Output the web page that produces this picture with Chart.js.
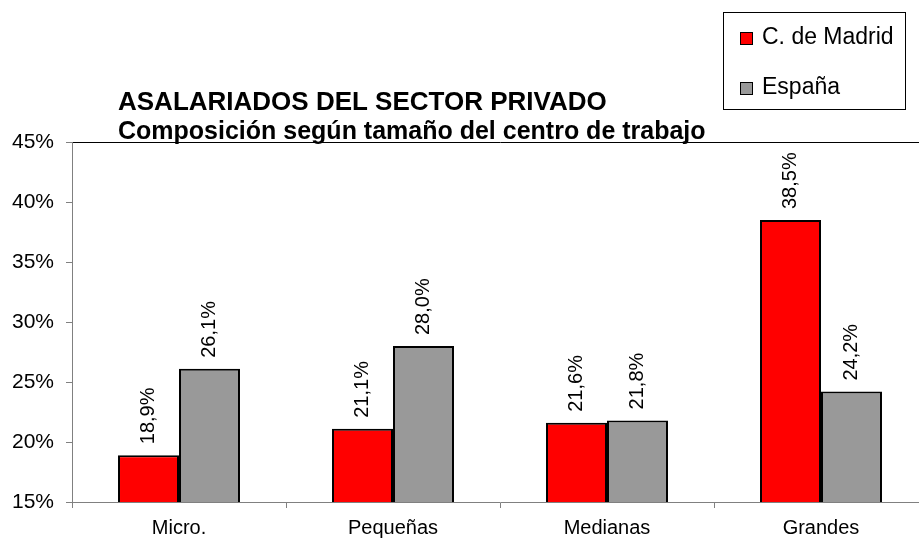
<!doctype html>
<html>
<head>
	<meta charset="utf-8">
	<title>Asalariados del sector privado</title>
	<script src="https://cdn.jsdelivr.net/npm/chart.js@4"></script>
	<style>
	html, body { margin: 0; padding: 0; background: #fff; overflow: hidden; }
	#wrap { position: relative; width: 930px; height: 543px; }
	</style>
</head>
<body>
	<div id="wrap">
		<canvas id="canvas" width="930" height="543"></canvas>
	</div>

	<script>
		var categories = ['Micro.', 'Pequeñas', 'Medianas', 'Grandes'];
		var madrid = [18.9, 21.1, 21.6, 38.5];
		var espana = [26.1, 28.0, 21.8, 24.2];
		var seriesNames = ['C. de Madrid', 'España'];
		var yTicks = [15, 20, 25, 30, 35, 40, 45];

		var titleText = 'ASALARIADOS DEL SECTOR PRIVADO';
		var subtitleText = 'Composición según tamaño del centro de trabajo';
		var fontName = '"Liberation Sans", Arial, sans-serif';

		Chart.defaults.font.family = fontName;
		Chart.defaults.color = '#000';

		// title, subtitle and the boxed legend
		var headerPlugin = {
			id: 'header',
			afterDraw: function(chart) {
				var c = chart.ctx;
				c.save();
				c.fillStyle = '#000';
				c.textBaseline = 'middle';
				c.textAlign = 'left';
				c.font = 'bold 26px ' + fontName;
				c.fillText(titleText, 118, 103);
				c.font = 'bold 25px ' + fontName;
				c.fillText(subtitleText, 118, 132);

				c.strokeStyle = '#000';
				c.lineWidth = 1;
				c.strokeRect(723.5, 12.5, 182, 97);
				c.font = '23px ' + fontName;
				chart.data.datasets.forEach(function(ds, i) {
					var y = 38 + i * 50;
					c.fillStyle = ds.backgroundColor;
					c.fillRect(740, y - 6, 13, 13);
					c.strokeRect(740.5, y - 5.5, 12, 12);
					c.fillStyle = '#000';
					c.fillText(ds.label, 762, y);
				});
				c.restore();
			}
		};

		// rotated value labels above bars
		var valueLabels = {
			id: 'valueLabels',
			afterDatasetsDraw: function(chart) {
				var c = chart.ctx;
				c.save();
				c.font = '20px ' + fontName;
				c.fillStyle = '#000';
				c.textAlign = 'left';
				c.textBaseline = 'middle';
				chart.data.datasets.forEach(function(ds, i) {
					chart.getDatasetMeta(i).data.forEach(function(bar, j) {
						var txt = ds.data[j].toFixed(1).replace('.', ',') + '%';
						c.save();
						c.translate(bar.x, bar.y - 11);
						c.rotate(-Math.PI / 2);
						c.fillText(txt, 0, 0);
						c.restore();
					});
				});
				c.restore();
			}
		};

		var ctx = document.getElementById('canvas').getContext('2d');
		window.myBar = new Chart(ctx, {
			type: 'bar',
			data: {
				labels: categories,
				datasets: [{
					label: seriesNames[0],
					data: madrid,
					backgroundColor: '#ff0000',
					borderColor: '#000',
					borderWidth: 2,
					borderSkipped: false
				}, {
					label: seriesNames[1],
					data: espana,
					backgroundColor: '#999999',
					borderColor: '#000',
					borderWidth: 2,
					borderSkipped: false
				}]
			},
			options: {
				responsive: false,
				animation: false,
				layout: { padding: { top: 142, right: 2, left: 0, bottom: 0 } },
				plugins: {
					legend: { display: false },
					title: { display: false },
					tooltip: { enabled: false }
				},
				datasets: {
					bar: { categoryPercentage: 0.57, barPercentage: 1 }
				},
				scales: {
					x: {
						grid: {
							offset: true,
							drawOnChartArea: false,
							drawTicks: true,
							tickLength: 6,
							color: '#808080'
						},
						border: { color: '#808080', width: 1 },
						ticks: { font: { size: 20 }, padding: 8, color: '#000' },
						afterFit: function(s) { s.height = 41; }
					},
					y: {
						min: 15,
						max: 45,
						afterBuildTicks: function(s) {
							s.ticks = yTicks.map(function(v) { return { value: v }; });
						},
						grid: {
							color: function(c) { return c.tick && c.tick.value === 45 ? '#000' : 'rgba(0,0,0,0)'; },
							tickColor: '#808080',
							tickLength: 6
						},
						border: { color: '#808080', width: 1 },
						ticks: {
							font: { size: 21 },
							padding: 12,
							color: '#000',
							callback: function(v) { return v + '%'; }
						},
						afterFit: function(s) { s.width = 72; }
					}
				}
			},
			plugins: [headerPlugin, valueLabels]
		});
	</script>
</body>
</html>
